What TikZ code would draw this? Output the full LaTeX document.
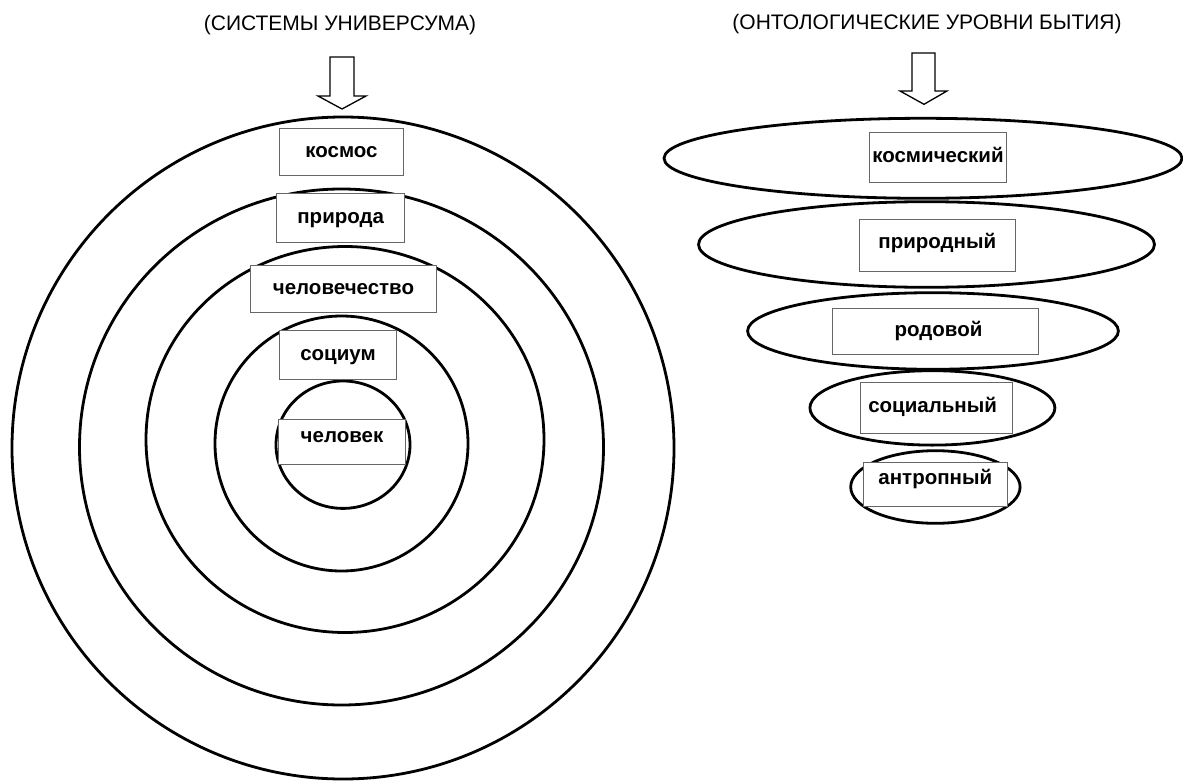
\documentclass[tikz,border=0pt]{standalone}
\usepackage{fontspec}
\setmainfont{Liberation Sans}
\begin{document}
\begin{tikzpicture}[x=1pt,y=-1pt,
  ring/.style={draw=black,line width=2.8pt},
  lbl/.style={draw=black!60,line width=0.9pt,fill=white,inner sep=0pt,
    text height=10.6pt,text depth=0pt,
    font=\bfseries\fontsize{20.5}{24}\selectfont},
  ttl/.style={inner sep=0pt,font=\fontsize{21}{25}\selectfont},
  blockarrow/.style={draw=black,line width=1.3pt,fill=white,line join=miter}]
\useasboundingbox (0,0) rectangle (1183,781);
\fill[white] (0,0) rectangle (1183,781);

% ---------- left: systems of the universe ----------
\node[ttl] (tl) at (340,25) {(СИСТЕМЫ УНИВЕРСУМА)};
\draw[blockarrow] (330,57) -- (354,57) -- (354,96) -- (366,96) -- (342,109)
  -- (318,96) -- (330,96) -- cycle;

\draw[ring] (343,448) ellipse [x radius=331pt, y radius=331pt];
\draw[ring] (341.5,447) ellipse [x radius=262pt, y radius=258pt];
\draw[ring] (345,439.5) ellipse [x radius=199pt, y radius=193pt];
\draw[ring] (341.5,443.5) ellipse [x radius=126.5pt, y radius=127.5pt];
\draw[ring] (343,444.7) ellipse [x radius=67pt, y radius=63.7pt];

\node[lbl,minimum width=124pt,minimum height=47.4pt] (kosmos) at (341.5,152) {космос};
\node[lbl,minimum width=127.7pt,minimum height=49pt] (priroda) at (340.7,217.8) {природа};
\node[lbl,minimum width=186pt,minimum height=46.6pt] (chelovechestvo) at (343.5,289) {человечество};
\node[lbl,minimum width=117pt,minimum height=48.6pt] (socium) at (338,355) {социум};
\node[lbl,minimum width=127pt,minimum height=45.4pt] (chelovek) at (342,442) {\raisebox{4.7pt}{человек}};

% ---------- right: ontological levels ----------
\node[ttl] (tr) at (927,24) {(ОНТОЛОГИЧЕСКИЕ УРОВНИ БЫТИЯ)};
\draw[blockarrow] (912,53) -- (935,53) -- (935,91) -- (947,91) -- (924,104.3)
  -- (900,91) -- (912,91) -- cycle;

\draw[ring] (923,158.3) ellipse [x radius=259pt, y radius=40pt];
\draw[ring] (926.5,244.5) ellipse [x radius=228pt, y radius=42.8pt];
\draw[ring] (933,331) ellipse [x radius=185.4pt, y radius=38.3pt];
\draw[ring] (932.4,407.9) ellipse [x radius=122.5pt, y radius=37.2pt];
\draw[ring] (935.4,487) ellipse [x radius=84.7pt, y radius=36.3pt];

\node[lbl,minimum width=137.4pt,minimum height=49.6pt] (kosm) at (938,157.5) {космический};
\node[lbl,minimum width=155.5pt,minimum height=52.3pt] (prir) at (937.3,245.2) {\raisebox{2.5pt}{природный}};
\node[lbl,minimum width=206.5pt,minimum height=46pt] (rod) at (935.5,331.3) {\hspace*{6pt}родовой};
\node[lbl,minimum width=152pt,minimum height=50.6pt] (soc) at (936.6,408) {\raisebox{1.3pt}{социальный}\hspace*{8pt}};
\node[lbl,minimum width=143.4pt,minimum height=44.4pt] (antr) at (935.3,484.5) {\raisebox{5.5pt}{антропный}};
\end{tikzpicture}
\end{document}
